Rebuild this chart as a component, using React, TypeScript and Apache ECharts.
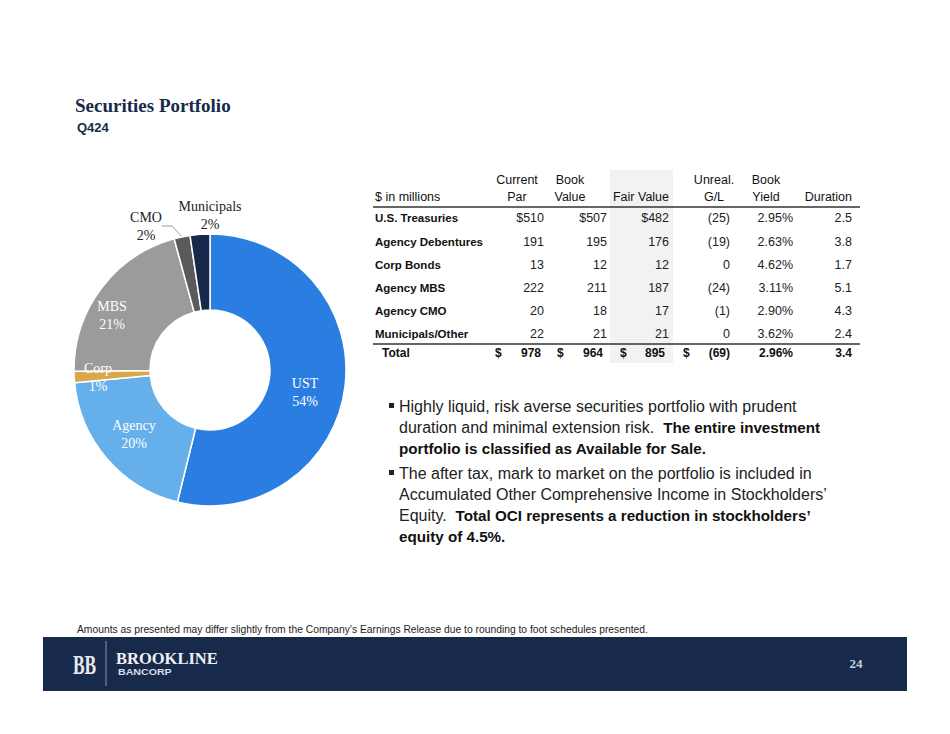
import React, { useEffect, useRef } from "react";
import * as echarts from "echarts";

// ---------- DATA ----------
const pieCategories = ["UST", "Agency", "Corp", "MBS", "CMO", "Municipals"];
const rowLabels = ["U.S. Treasuries", "Agency Debentures", "Corp Bonds", "Agency MBS", "Agency CMO", "Municipals/Other"];
const currentPar = [510, 191, 13, 222, 20, 22];
const bookValue = [507, 195, 12, 211, 18, 21];
const fairValue = [482, 176, 12, 187, 17, 21];
const unrealGL = [-25, -19, 0, -24, -1, 0];
const bookYield = [2.95, 2.63, 4.62, 3.11, 2.9, 3.62];
const duration = [2.5, 3.8, 1.7, 5.1, 4.3, 2.4];
const totalRow = [978, 964, 895, -69, 2.96, 3.4];
const headerTop = ["Current", "Book", "", "Unreal.", "Book", ""];
const headerBottom = ["Par", "Value", "Fair Value", "G/L", "Yield", "Duration"];

const NAVY = "#172A4C";
const SANS = "'Liberation Sans', Arial, sans-serif";
const SERIF = "'Liberation Serif', 'Times New Roman', serif";
const sliceColors = ["#2A7DE1", "#65B0EA", "#D9A84A", "#9B9B9B", "#5A5A5A", "#17284A"];

const fmtGL = (v: number) => (v < 0 ? `(${Math.abs(v)})` : `${v}`);

function tx(x: number, y: number, text: string, font: string, fill: string, align = "left", extra: any = {}, el: any = {}) {
  return {
    type: "text",
    x,
    y,
    z: 10,
    ...el,
    style: { text, font, fill, align, verticalAlign: "middle", textAlign: align, textVerticalAlign: "middle", ...extra },
  };
}

export default function App() {
  const ref = useRef<HTMLDivElement>(null);
  useEffect(() => {
    document.body.style.margin = "0";
    const chart = echarts.init(ref.current!, null, { renderer: "svg" });
    const g: any[] = [];

    // Title
    g.push(tx(75, 105, "Securities Portfolio", `bold 19px ${SERIF}`, NAVY));
    g.push(tx(77, 127, "Q424", `bold 13px ${SANS}`, NAVY));

    // Table
    const colRight = [544, 607, 669, 730, 793, 852];
    const colHeadCenter = [517, 570, 641, 714, 766, 828];
    const dollarX = [495, 557, 620, 683];
    const HF = `12.5px ${SANS}`;
    g.push({ type: "rect", z: 1, shape: { x: 610, y: 170, width: 63, height: 193 }, style: { fill: "#F2F2F2" } });
    g.push(tx(375, 197, "$ in millions", HF, "#111"));
    headerTop.forEach((t, i) => {
      if (t) g.push(tx(colHeadCenter[i], 180, t, HF, "#111", "center"));
    });
    headerBottom.forEach((t, i) => {
      if (i === 5) g.push(tx(colRight[i], 197, t, HF, "#111", "right"));
      else g.push(tx(colHeadCenter[i], 197, t, HF, "#111", "center"));
    });
    g.push({ type: "line", z: 5, shape: { x1: 373, y1: 207, x2: 860, y2: 207 }, style: { stroke: "#333", lineWidth: 1.5 } });
    const rowY = [218, 242, 265, 288, 311, 334];
    rowLabels.forEach((lab, r) => {
      const y = rowY[r];
      const pre = r === 0 ? "$" : "";
      g.push(tx(375, y, lab, `bold 11.5px ${SANS}`, "#111"));
      const cells = [
        pre + currentPar[r],
        pre + bookValue[r],
        pre + fairValue[r],
        fmtGL(unrealGL[r]),
        bookYield[r].toFixed(2) + "%",
        duration[r].toFixed(1),
      ];
      cells.forEach((c, i) => g.push(tx(colRight[i], y, c, `12.5px ${SANS}`, "#222", "right")));
    });
    g.push({ type: "line", z: 5, shape: { x1: 373, y1: 344, x2: 860, y2: 344 }, style: { stroke: "#333", lineWidth: 1.5 } });
    g.push(tx(382, 353, "Total", `bold 12px ${SANS}`, "#111"));
    dollarX.forEach((x) => g.push(tx(x, 353, "$", `bold 12px ${SANS}`, "#111")));
    const totalCells = [
      `${totalRow[0]}`,
      `${totalRow[1]}`,
      `${totalRow[2]}`,
      fmtGL(totalRow[3]),
      totalRow[4].toFixed(2) + "%",
      totalRow[5].toFixed(1),
    ];
    const totalRight = [541, 603, 665, 730, 793, 852];
    totalCells.forEach((c, i) => g.push(tx(totalRight[i], 353, c, `bold 12px ${SANS}`, "#111", "right")));

    // Bullets
    const rich = {
      n: { fontFamily: SANS, fontSize: 16, fill: "#222", color: "#222" },
      b: { fontFamily: SANS, fontSize: 15.2, fontWeight: "bold", fill: "#111", color: "#111" },
    };
    const bulletLines: [number, string][] = [
      [406, "{n|Highly liquid, risk averse securities portfolio with prudent}"],
      [427, "{n|duration and minimal extension risk.  }{b|The entire investment}"],
      [448, "{b|portfolio is classified as Available for Sale.}"],
      [473, "{n|The after tax, mark to market on the portfolio is included in}"],
      [494, "{n|Accumulated Other Comprehensive Income in Stockholders\u2019}"],
      [515, "{n|Equity.  }{b|Total OCI represents a reduction in stockholders\u2019}"],
      [536, "{b|equity of 4.5%.}"],
    ];
    bulletLines.forEach(([y, t]) => g.push(tx(399, y, t, `16px ${SANS}`, "#222", "left", { rich })));
    [406, 473].forEach((y) =>
      g.push({ type: "rect", z: 10, shape: { x: 389, y: y - 3, width: 5, height: 5 }, style: { fill: "#222" } })
    );

    // Footnote
    g.push(
      tx(
        77,
        629,
        "Amounts as presented may differ slightly from the Company\u2019s Earnings Release due to rounding to foot schedules presented.",
        `10.3px ${SANS}`,
        "#222"
      )
    );

    // Footer bar
    g.push({ type: "rect", z: 2, shape: { x: 43, y: 637, width: 864, height: 54 }, style: { fill: NAVY } });
    g.push(tx(73, 664, "BB", `bold 28px ${SERIF}`, "#E8E8EE", "left", {}, { scaleX: 0.62 }));
    g.push({ type: "line", z: 10, shape: { x1: 106, y1: 641, x2: 106, y2: 686 }, style: { stroke: "#8A93A8", lineWidth: 1 } });
    g.push(tx(116, 658, "BROOKLINE", `bold 16.5px ${SERIF}`, "#F0F0F4"));
    g.push(tx(118, 672, "BANCORP", `bold 8.5px ${SANS}`, "#D8DCE6", "left", {}, { scaleX: 1.25 }));
    g.push(tx(856, 663, "24", `bold 13px ${SERIF}`, "#C8CCD6", "center"));

    const labelPos: Record<number, [number, number]> = {
      0: [305, 392],
      1: [134, 434],
      2: [98, 377],
      3: [112, 315],
      4: [146, 226],
      5: [210, 215],
    };

    chart.setOption({
      animation: false,
      backgroundColor: "#ffffff",
      series: [
        {
          type: "pie",
          center: [210, 370],
          radius: [60, 136],
          startAngle: 90,
          clockwise: true,
          avoidLabelOverlap: false,
          itemStyle: { borderColor: "#ffffff", borderWidth: 1.5 },
          label: {
            position: "inside",
            formatter: (p: any) => `${p.name}\n${Math.round(p.percent)}%`,
            fontFamily: SERIF,
            fontSize: 14,
            lineHeight: 18,
            color: "#ffffff",
          },
          labelLayout: (p: any) => {
            const pos = labelPos[p.dataIndex];
            return { x: pos[0], y: pos[1], align: "center", verticalAlign: "middle" };
          },
          data: pieCategories.map((name, i) => {
            const d: any = { name, value: fairValue[i], itemStyle: { color: sliceColors[i] } };
            if (i === 4) {
              d.label = { position: "outside", color: "#222" };
              d.labelLine = { show: true, length: 20, length2: 10, lineStyle: { color: "#9A9A9A", width: 1 } };
            }
            if (i === 5) {
              d.label = { position: "outside", color: "#222" };
              d.labelLine = { show: false };
            }
            return d;
          }),
        },
      ],
      graphic: g,
    });
    return () => chart.dispose();
  }, []);
  return <div ref={ref} style={{ width: 950, height: 734 }} />;
}
